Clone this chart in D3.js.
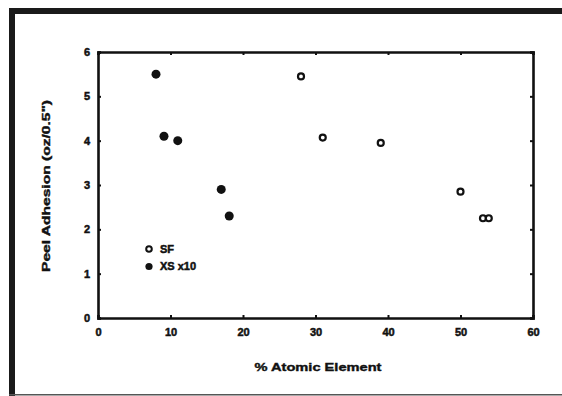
<!DOCTYPE html>
<html><head><meta charset="utf-8">
<script src="https://cdn.jsdelivr.net/npm/d3@7"></script>
<style>body{margin:0;background:#fff}svg{display:block}</style>
</head><body>
<script>
const sfX = [28, 31, 39, 50, 53.1, 53.9];
const sfY = [5.45, 4.07, 3.95, 2.85, 2.25, 2.25];
const xsX = [8, 9.1, 11, 17, 18.1];
const xsY = [5.5, 4.1, 4.0, 2.9, 2.3];
const xTicks = [0, 10, 20, 30, 40, 50, 60];
const yTicks = [0, 1, 2, 3, 4, 5, 6];
const legendLabels = ["SF", "XS x10"];

const W = 562, H = 396;
const svg = d3.select("body").append("svg").attr("width", W).attr("height", H);
const ink = "#111";

// outer frame (scan border)
svg.append("rect").attr("x", 9).attr("y", 8).attr("width", 6).attr("height", H - 8).attr("fill", "#1a1a1a");
svg.append("rect").attr("x", 9).attr("y", 8).attr("width", W - 9).attr("height", 6).attr("fill", "#1a1a1a");
svg.append("rect").attr("x", 9).attr("y", 394).attr("width", W - 9).attr("height", 1.5).attr("fill", "#555");

const x = d3.scaleLinear().domain([0, 60]).range([98, 533]);
const y = d3.scaleLinear().domain([0, 6]).range([318, 52]);

const font = "Arial, 'Liberation Sans', sans-serif";

// axes with inward ticks
const gx = svg.append("g").attr("transform", `translate(0,${y(0)})`)
  .call(d3.axisBottom(x).tickValues(xTicks).tickSize(-3).tickPadding(10).tickFormat(d3.format("d")));
const gy = svg.append("g").attr("transform", `translate(${x(0)},0)`)
  .call(d3.axisLeft(y).tickValues(yTicks).tickSize(-3).tickPadding(8).tickFormat(d3.format("d")));
const gt = svg.append("g").attr("transform", `translate(0,${y(6)})`)
  .call(d3.axisTop(x).tickValues(xTicks).tickSize(-3).tickFormat(""));
const gr = svg.append("g").attr("transform", `translate(${x(60)},0)`)
  .call(d3.axisRight(y).tickValues(yTicks).tickSize(-3).tickFormat(""));
[gx, gy, gt, gr].forEach(g => {
  g.select(".domain").attr("stroke", ink).attr("stroke-width", 2.6);
  g.selectAll(".tick line").attr("stroke", ink).attr("stroke-width", 2);
  g.selectAll(".tick text").attr("fill", ink).attr("font-family", font)
    .attr("font-weight", "bold").attr("font-size", 11)
    .attr("stroke", ink).attr("stroke-width", 0.5);
});
gx.selectAll(".tick text").attr("dy", "0.71em");

// axis titles
svg.append("text").attr("x", 318).attr("y", 371).attr("text-anchor", "middle")
  .attr("font-family", font).attr("font-weight", "bold").attr("font-size", 11.5)
  .attr("textLength", 127).attr("lengthAdjust", "spacingAndGlyphs")
  .attr("stroke", ink).attr("stroke-width", 0.4)
  .attr("fill", ink).text("% Atomic Element");
svg.append("text").attr("transform", "translate(50,186) rotate(-90)").attr("text-anchor", "middle")
  .attr("font-family", font).attr("font-weight", "bold").attr("font-size", 11)
  .attr("textLength", 172).attr("lengthAdjust", "spacingAndGlyphs")
  .attr("stroke", ink).attr("stroke-width", 0.4)
  .attr("fill", ink).text("Peel Adhesion (oz/0.5\")");

// data points
const sf = sfX.map((v, i) => ({x: v, y: sfY[i]}));
const xs = xsX.map((v, i) => ({x: v, y: xsY[i]}));
svg.append("g").selectAll("circle").data(xs).join("circle")
  .attr("cx", d => x(d.x)).attr("cy", d => y(d.y)).attr("r", 4.5).attr("fill", ink);
svg.append("g").selectAll("circle").data(sf).join("circle")
  .attr("cx", d => x(d.x)).attr("cy", d => y(d.y)).attr("r", 3)
  .attr("fill", "#fff").attr("stroke", ink).attr("stroke-width", 2.2);

// legend
const lg = svg.append("g");
lg.append("circle").attr("cx", 149).attr("cy", 249).attr("r", 2.8).attr("fill", "#fff").attr("stroke", ink).attr("stroke-width", 2);
lg.append("circle").attr("cx", 149).attr("cy", 266.5).attr("r", 3.6).attr("fill", ink);
lg.selectAll("text").data(legendLabels).join("text")
  .attr("x", 160).attr("y", (d, i) => 249 + i * 17.5).attr("dy", "0.35em")
  .attr("font-family", font).attr("font-weight", "bold").attr("font-size", 11)
  .attr("stroke", ink).attr("stroke-width", 0.5)
  .attr("fill", ink).text(d => d);
</script>
</body></html>
